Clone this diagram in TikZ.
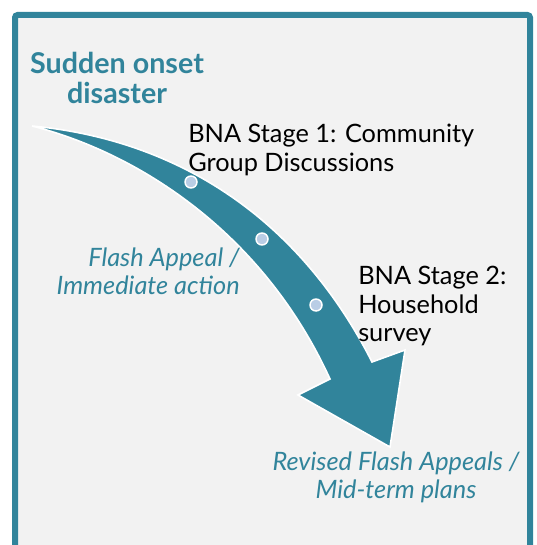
\documentclass[tikz,border=0pt]{standalone}
\usepackage{fontspec}
\setmainfont{Lato}
\usetikzlibrary{positioning}
\definecolor{Teal}{HTML}{31849B}
\definecolor{Paper}{HTML}{F2F2F2}
\definecolor{DotBlue}{HTML}{B9CDE5}

\begin{document}
\begin{tikzpicture}[x=0.75pt,y=-0.75pt,
  frame/.style={draw=Teal,fill=Paper,line width=4.5pt,rounded corners=2pt},
  flow/.style={fill=Teal,draw=white,line width=1.2pt,line join=miter},
  stagedot/.style={circle,fill=DotBlue,draw=white,line width=1.1pt,minimum size=9pt,inner sep=0pt},
  title/.style={font=\bfseries\fontsize{21.5}{22.5}\selectfont,text=Teal,align=center,inner sep=0pt},
  stage/.style={font=\fontsize{19}{21.5}\selectfont,text=black,align=left,inner sep=0pt},
  outcome/.style={font=\itshape\fontsize{19}{21}\selectfont,text=Teal,inner sep=0pt}
]
\useasboundingbox (0,0) rectangle (536,545);
\clip (0,0) rectangle (536,545);
\draw[frame] (15,15) rectangle (530,560);
% curved arrow
\draw[flow] (32,126) .. controls (180,140) and (300,220) .. (372,362)
  -- (405,350) -- (390,447) -- (298,395) -- (330,379)
  .. controls (262,230) and (135,152) .. (32,126) -- cycle;
\node[stagedot] (dot1) at (191,182) {};
\node[stagedot] (dot2) at (262,239) {};
\node[stagedot] (dot3) at (316,305) {};
% labels
\node[title,anchor=north] (onset) at (117,52) {Sudden onset\\disaster};
\node[stage,anchor=north west] (stage1) at (188,124) {BNA Stage 1: Community\\Group Discussions};
\node[stage,anchor=north west] (stage2) at (358,266) {BNA Stage 2:\\Household\\survey};
\node[outcome,align=right,anchor=north east] (flash) at (240,248) {Flash Appeal /\\Immediate action};
\node[outcome,align=center,anchor=north] (revised) at (396,452) {Revised Flash Appeals /\\Mid-term plans};
\end{tikzpicture}
\end{document}
